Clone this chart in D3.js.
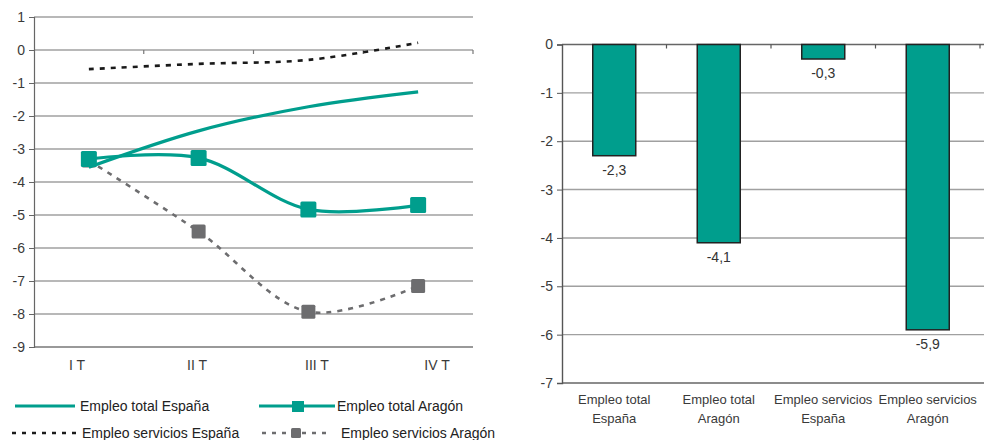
<!DOCTYPE html>
<html><head><meta charset="utf-8">
<script src="https://cdn.jsdelivr.net/npm/d3@7"></script>
<style>
body{margin:0;background:#fff;}
svg{display:block;font-family:"Liberation Sans",Arial,sans-serif;}
</style></head>
<body><svg id="c" width="984" height="440"></svg>
<script>
// ---- data ----
const quarters = ["I T","II T","III T","IV T"];
const totalEspana = [-3.55,-2.45,-1.72,-1.27];
const totalAragon = [-3.3,-3.27,-4.83,-4.7];
const serviciosEspana = [-0.58,-0.42,-0.3,0.22];
const serviciosAragon = [-3.35,-5.5,-7.93,-7.15];
const leftTicks = [1,0,-1,-2,-3,-4,-5,-6,-7,-8,-9];

const barCats = [["Empleo total","España"],["Empleo total","Aragón"],["Empleo servicios","España"],["Empleo servicios","Aragón"]];
const barValues = [-2.3,-4.1,-0.3,-5.9];
const rightTicks = [0,-1,-2,-3,-4,-5,-6,-7];

const teal = "#009e8d", grey = "#6d6d6f", dark = "#222";
const svg = d3.select("#c");
const loc = d3.formatLocale({decimal:",",thousands:".",grouping:[3],currency:["","€"],minus:"-"});
const fmt = loc.format(".1f");

// ---- left chart ----
const xL = d3.scaleBand().domain(quarters).range([34,473]);
const xLab = d3.scalePoint().domain(quarters).range([77,437]);
const yL = d3.scaleLinear().domain([-9,1]).range([347,17]);
const gL = svg.append("g");
gL.selectAll("line.grid").data(leftTicks).join("line")
  .attr("x1",34).attr("x2",473).attr("y1",d=>yL(d)).attr("y2",d=>yL(d))
  .attr("stroke",d=>d===-9?"#777":"#a0a0a0").attr("stroke-width",1.4);
const axL = gL.append("g").attr("transform","translate(34,0)")
  .call(d3.axisLeft(yL).tickValues(leftTicks).tickFormat(d=>String(d)).tickSize(5).tickPadding(4));
axL.select(".domain").attr("stroke","#666").attr("stroke-width",1.2);
axL.selectAll(".tick line").attr("stroke","#666");
axL.selectAll("text").attr("font-size",14).attr("fill","#3a3a3a").attr("font-family","Liberation Sans, Arial, sans-serif");
gL.selectAll("line.ct").data(quarters).join("line")
  .attr("x1",d=>xL(d)+xL.bandwidth()).attr("x2",d=>xL(d)+xL.bandwidth())
  .attr("y1",yL(0)).attr("y2",yL(0)+4).attr("stroke","#777").attr("stroke-width",1.2);
gL.selectAll("text.cat").data(quarters).join("text")
  .attr("x",d=>xLab(d)).attr("y",370).attr("text-anchor","middle")
  .attr("font-size",14).attr("fill","#3a3a3a").text(d=>d);

const cx = (d,i)=>xL(quarters[i])+xL.bandwidth()/2;
const lineGen = d3.line().x(cx).y(d=>yL(d)).curve(d3.curveCatmullRom.alpha(0.5));

gL.append("path").datum(serviciosEspana).attr("d",lineGen).attr("fill","none")
  .attr("stroke","#1a1a1a").attr("stroke-width",2.6).attr("stroke-dasharray","5,6");
gL.append("path").datum(serviciosAragon).attr("d",lineGen).attr("fill","none")
  .attr("stroke",grey).attr("stroke-width",2.6).attr("stroke-dasharray","5,6");
gL.selectAll("rect.sa").data(serviciosAragon).join("rect")
  .attr("x",(d,i)=>cx(d,i)-7).attr("y",d=>yL(d)-7).attr("width",14).attr("height",14)
  .attr("rx",1.5).attr("fill",grey);
gL.append("path").datum(totalEspana).attr("d",lineGen).attr("fill","none")
  .attr("stroke",teal).attr("stroke-width",3.2);
gL.append("path").datum(totalAragon).attr("d",lineGen).attr("fill","none")
  .attr("stroke",teal).attr("stroke-width",3.2);
gL.selectAll("rect.ta").data(totalAragon).join("rect")
  .attr("x",(d,i)=>cx(d,i)-8).attr("y",d=>yL(d)-8).attr("width",16).attr("height",16)
  .attr("rx",1.5).attr("fill",teal);

// ---- legend ----
const lg = svg.append("g").attr("font-size",14).attr("fill","#222");
lg.append("line").attr("x1",15).attr("x2",75).attr("y1",406).attr("y2",406).attr("stroke",teal).attr("stroke-width",3);
lg.append("text").attr("x",80).attr("y",411).text("Empleo total España");
lg.append("line").attr("x1",259).attr("x2",335).attr("y1",406).attr("y2",406).attr("stroke",teal).attr("stroke-width",3);
lg.append("rect").attr("x",292).attr("y",401).attr("width",12).attr("height",11).attr("fill",teal);
lg.append("text").attr("x",337).attr("y",411).text("Empleo total Aragón");
lg.append("line").attr("x1",12).attr("x2",80).attr("y1",433).attr("y2",433).attr("stroke","#1a1a1a").attr("stroke-width",2.6).attr("stroke-dasharray","4,6");
lg.append("text").attr("x",82).attr("y",438).text("Empleo servicios España");
lg.append("line").attr("x1",262).attr("x2",326).attr("y1",433).attr("y2",433).attr("stroke",grey).attr("stroke-width",2.6).attr("stroke-dasharray","4,6");
lg.append("rect").attr("x",291).attr("y",428).attr("width",10).attr("height",10).attr("rx",1.5).attr("fill",grey);
lg.append("text").attr("x",341).attr("y",438).text("Empleo servicios Aragón");

// ---- right chart ----
const xR = d3.scaleBand().domain(barCats.map(d=>d.join(" "))).range([562,980]);
const yR = d3.scaleLinear().domain([-7,0]).range([383,44.5]);
const gR = svg.append("g");
gR.selectAll("line.grid").data(rightTicks).join("line")
  .attr("x1",562).attr("x2",984).attr("y1",d=>yR(d)).attr("y2",d=>yR(d))
  .attr("stroke",d=>(d===0||d===-7)?"#666":"#a0a0a0").attr("stroke-width",1.4);
const axR = gR.append("g").attr("transform","translate(562,0)")
  .call(d3.axisLeft(yR).tickValues(rightTicks).tickFormat(d=>String(d)).tickSize(5).tickPadding(4));
axR.select(".domain").attr("stroke","#555").attr("stroke-width",1.4);
axR.selectAll(".tick line").attr("stroke","#555");
axR.selectAll("text").attr("font-size",14).attr("fill","#3a3a3a").attr("font-family","Liberation Sans, Arial, sans-serif");
gR.selectAll("line.ct").data(barCats).join("line")
  .attr("x1",d=>xR(d.join(" "))+xR.bandwidth()).attr("x2",d=>xR(d.join(" "))+xR.bandwidth())
  .attr("y1",yR(0)).attr("y2",yR(0)+4).attr("stroke","#555").attr("stroke-width",1.2);
const bw = 43;
gR.selectAll("rect.bar").data(barValues).join("rect")
  .attr("x",(d,i)=>xR(barCats[i].join(" "))+xR.bandwidth()/2-bw/2)
  .attr("y",yR(0)).attr("width",bw).attr("height",d=>yR(d)-yR(0))
  .attr("fill",teal).attr("stroke",dark).attr("stroke-width",1.5);
gR.selectAll("text.val").data(barValues).join("text")
  .attr("x",(d,i)=>xR(barCats[i].join(" "))+xR.bandwidth()/2)
  .attr("y",d=>yR(d)+19).attr("text-anchor","middle").attr("font-size",14).attr("fill","#333")
  .text(d=>fmt(d));
const cl = gR.selectAll("text.cat").data(barCats).join("text")
  .attr("text-anchor","middle").attr("font-size",13).attr("fill","#3a3a3a");
cl.append("tspan").attr("x",d=>xR(d.join(" "))+xR.bandwidth()/2).attr("y",404).text(d=>d[0]);
cl.append("tspan").attr("x",d=>xR(d.join(" "))+xR.bandwidth()/2).attr("y",423).text(d=>d[1]);
</script></body></html>
